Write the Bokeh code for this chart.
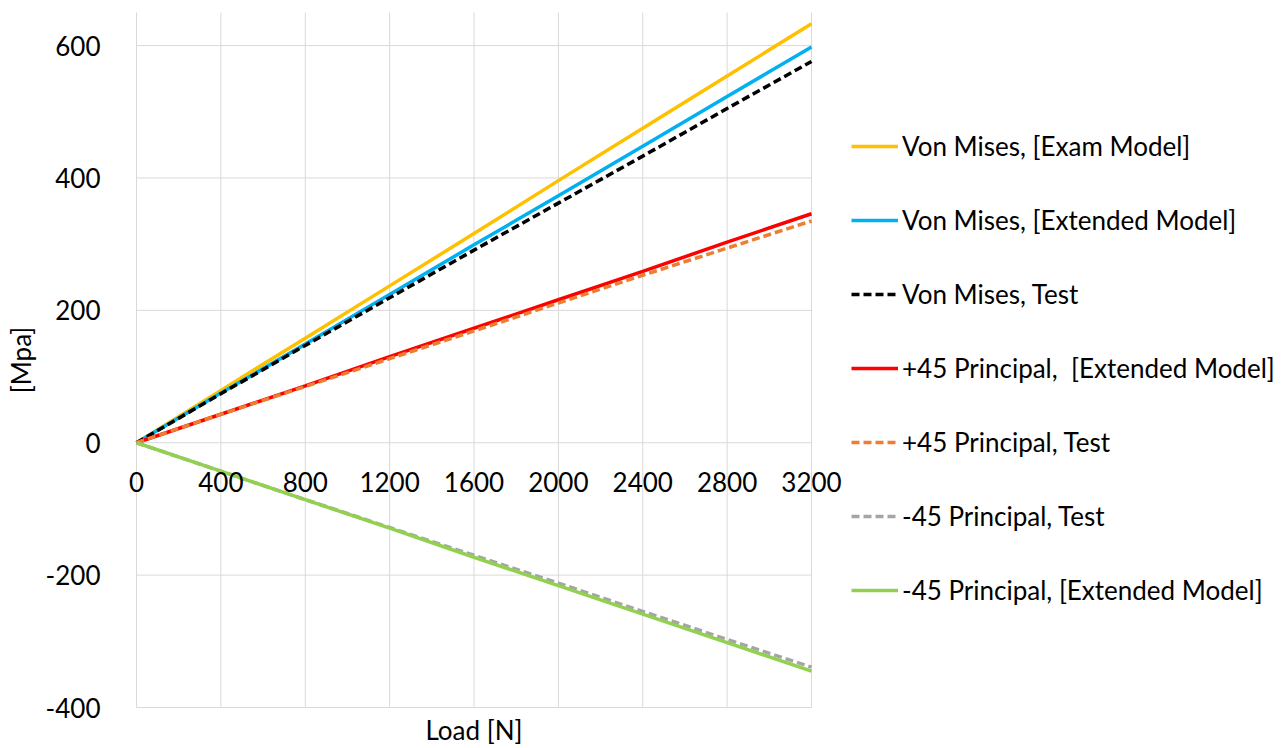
from bokeh.plotting import figure
from bokeh.models import Range1d, FixedTicker, Legend, LegendItem, LinearAxis
from bokeh.embed import file_html
from bokeh.resources import INLINE

loads = [0, 400, 800, 1200, 1600, 2000, 2400, 2800, 3200]
vm_exam = [0, 79, 158, 237, 316, 396, 475, 554, 633]
vm_ext = [0, 75, 149, 224, 299, 373, 448, 523, 598]
vm_test = [0, 74, 147, 219, 291, 362, 433, 505, 576]
p45_ext = [0, 43, 86, 130, 173, 216, 259, 303, 346]
p45_test = [0, 43, 85, 127, 169, 211, 253, 294, 335]
m45_test = [0, -43, -86, -128, -170, -212, -255, -297, -339]
m45_ext = [0, -43, -86, -129, -173, -216, -259, -302, -345]

x_ticks = [0, 400, 800, 1200, 1600, 2000, 2400, 2800, 3200]
y_ticks = [-400, -200, 0, 200, 400, 600]
y_tick_labels = {-400: "-400", -200: "-200", 0: "0", 200: "200", 400: "400", 600: "600"}
y_min, y_max = -400, 650

series = [
    ("Von Mises, [Exam Model]", vm_exam, "#FFC000", "solid"),
    ("Von Mises, [Extended Model]", vm_ext, "#00B0F0", "solid"),
    ("Von Mises, Test", vm_test, "#000000", "8 4"),
    ("+45 Principal,  [Extended Model]", p45_ext, "#FF0000", "solid"),
    ("+45 Principal, Test", p45_test, "#ED7D31", "8 4"),
    ("-45 Principal, Test", m45_test, "#A5A5A5", "8 4"),
    ("-45 Principal, [Extended Model]", m45_ext, "#92D050", "solid"),
]

FONT = "Lato"
FS = "26px"
GRID = "#D9D9D9"

# layout in pixels: plot area x 136..811, y 12..707; whole canvas is the frame
W, H = 1284, 748
PX0, PX1 = 136, 811
PY0, PY1 = 12, 707
ppx = (PX1 - PX0) / (x_ticks[-1] - x_ticks[0])
ppy = (PY1 - PY0) / (y_max - y_min)
x_start = x_ticks[0] - PX0 / ppx
x_end = x_ticks[0] + (W - PX0) / ppx
y_top = y_max + PY0 / ppy
y_bottom = y_min - (H - PY1) / ppy

p = figure(width=W, height=H, output_backend="svg", toolbar_location=None,
           x_range=Range1d(x_start, x_end), y_range=Range1d(y_bottom, y_top),
           min_border_left=0, min_border_right=0, min_border_top=0,
           min_border_bottom=0)
p.outline_line_color = None
p.background_fill_color = "white"
p.border_fill_color = "white"

p.xgrid.visible = False
p.ygrid.visible = False
p.segment(x0=x_ticks[0], x1=x_ticks[-1], y0=y_ticks, y1=y_ticks,
          line_color=GRID, line_width=1)
p.segment(x0=x_ticks, x1=x_ticks, y0=y_min, y1=y_max,
          line_color=GRID, line_width=1)

p.xaxis.ticker = FixedTicker(ticks=x_ticks)
p.xaxis.fixed_location = 0
p.xaxis.axis_line_color = None
p.xaxis.major_tick_line_color = None
p.xaxis.minor_tick_line_color = None
p.xaxis.major_label_text_font = FONT
p.xaxis.major_label_text_font_size = FS
p.xaxis.major_label_text_color = "#000000"
p.xaxis.major_label_standoff = 23

xlab = LinearAxis(fixed_location=y_min, bounds=(x_ticks[0], x_ticks[-1]),
                  ticker=FixedTicker(ticks=[]), axis_label="Load [N]",
                  axis_line_color=None, major_tick_line_color=None,
                  minor_tick_line_color=None, major_tick_out=0, minor_tick_out=0,
                  major_label_text_font_size="0px",
                  axis_label_text_font=FONT, axis_label_text_font_size=FS,
                  axis_label_text_font_style="normal",
                  axis_label_text_color="#000000", axis_label_standoff=6)
p.add_layout(xlab, "below")

p.yaxis.ticker = FixedTicker(ticks=y_ticks)
p.yaxis.fixed_location = 0
p.yaxis.bounds = (y_min, y_max)
p.yaxis.major_label_overrides = y_tick_labels
p.yaxis.axis_line_color = None
p.yaxis.major_tick_line_color = None
p.yaxis.minor_tick_line_color = None
p.yaxis.major_label_text_font = FONT
p.yaxis.major_label_text_font_size = FS
p.yaxis.major_label_text_color = "#000000"
p.yaxis.major_label_standoff = 30
p.yaxis.axis_label = "[Mpa]"
p.yaxis.axis_label_text_font = FONT
p.yaxis.axis_label_text_font_size = FS
p.yaxis.axis_label_text_font_style = "normal"
p.yaxis.axis_label_text_color = "#000000"
p.yaxis.axis_label_standoff = 6

items = []
for name, ys, color, dash in series:
    r = p.line(loads, ys, line_color=color, line_width=3.5, line_dash=dash)
    items.append(LegendItem(label=name, renderers=[r]))

legend = Legend(items=items, location=(851, 142))
legend.label_text_font = FONT
legend.label_text_font_size = FS
legend.label_text_color = "#000000"
legend.glyph_width = 47
legend.glyph_height = 30
legend.label_height = 30
legend.spacing = 42
legend.label_standoff = 4
legend.margin = 0
legend.padding = 0
legend.border_line_color = None
legend.background_fill_alpha = 0
p.add_layout(legend, "center")

open("out.html", "w").write(file_html(p, INLINE))
